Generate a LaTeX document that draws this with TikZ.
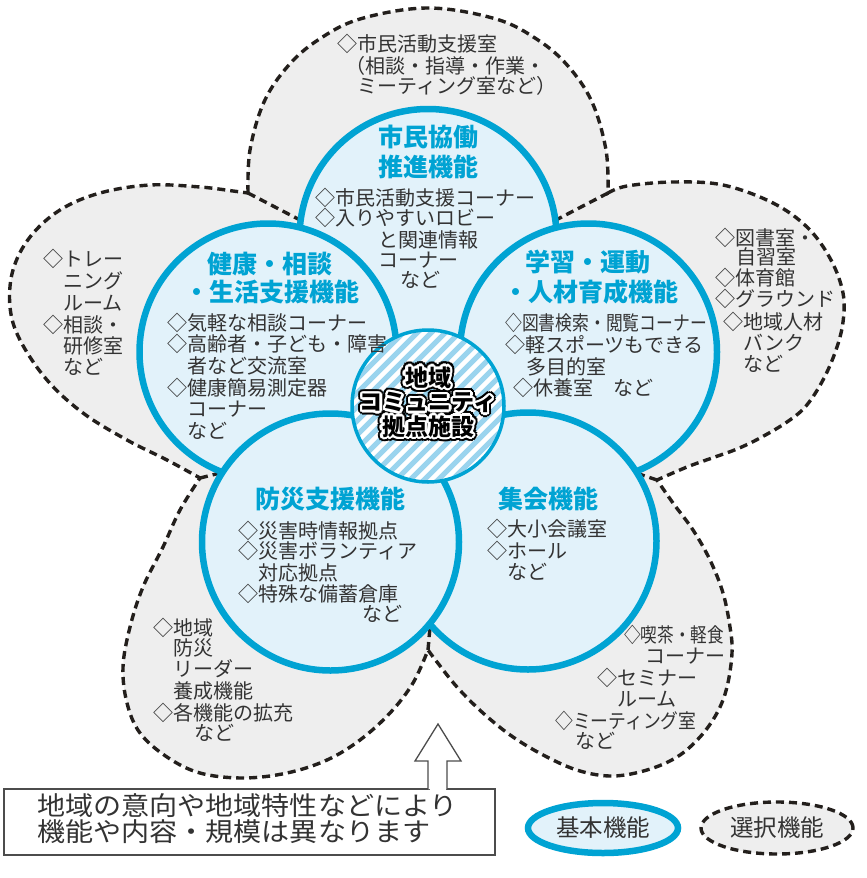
\documentclass[tikz,border=0pt]{standalone}
\usepackage{fontspec}
\usepackage{graphicx}
\usetikzlibrary{shapes.geometric}
\newfontfamily\jp{Noto Sans CJK JP}
\definecolor{bblue}{HTML}{00A3D3}
\definecolor{lblue}{HTML}{E2F2FA}
\definecolor{pgray}{HTML}{EEEEEE}
\definecolor{tgray}{HTML}{333333}
\definecolor{stripecol}{HTML}{9AD4EE}
\definecolor{dashcol}{HTML}{231F1C}
\tikzset{
  txt/.style={anchor=west, inner sep=0pt, text=tgray, text height=0.88em, text depth=0.12em, font=\jp\fontsize{20}{21}\selectfont},
  headtxt/.style={anchor=center, inner sep=0pt, text=bblue, text height=0.88em, text depth=0.12em, font=\jp\bfseries\fontsize{25}{28}\selectfont},
  petalline/.style={draw=dashcol, line width=3.4pt, dash pattern=on 8pt off 5pt},
  bluecirc/.style={fill=lblue, draw=bblue, line width=6.5pt},
  ctxt/.style={inner sep=0pt, align=center, font=\jp\bfseries\fontsize{23}{24.5}\selectfont},
  notebox/.style={draw=black!70, line width=1.3pt, fill=white},
  notetxt/.style={anchor=west, inner sep=0pt, text=tgray, text height=0.88em, text depth=0.12em, font=\jp\fontsize{26}{27}\selectfont}
}
\begin{document}
\begin{tikzpicture}[x=1pt,y=-1pt]
\useasboundingbox (0,0) rectangle (867,878);
% corners
\coordinate (k1) at (248,193);
\coordinate (k2) at (608,193);
\coordinate (k3) at (657,480);
\coordinate (k4) at (428,650);
\coordinate (k5) at (200,478);
\coordinate (i1) at (300,220);
\coordinate (i2) at (556,220);
\coordinate (i3) at (636,473);
\coordinate (i4) at (430,627);
\coordinate (i5) at (220,473);
% petals
\path[fill=pgray, petalline]
  plot[smooth, tension=0.6] coordinates {(248,193) (250,150) (264,102) (288,66) (318,40) (360,19) (428,8) (496,19) (538,40) (568,66) (592,102) (606,150) (608,193)}
  -- plot[smooth, tension=0.6] coordinates {(608,193) (627,186) (673,182) (723,185) (773,203) (808,228) (831,260) (843,293) (843,322) (836,350) (823,380) (806,406) (787,422) (760,438) (737,449) (712,458) (687,467) (657,480)}
  -- plot[smooth, tension=0.6] coordinates {(657,480) (673,503) (693,530) (710,560) (723,593) (730,627) (732,653) (727,687) (717,713) (700,737) (677,757) (647,770) (613,776) (580,771) (547,757) (513,737) (483,713) (457,687) (437,662) (428,650)}
  -- plot[smooth, tension=0.6] coordinates {(428,650) (413,683) (390,713) (360,740) (327,760) (287,773) (243,778) (200,773) (167,757) (140,733) (127,703) (123,667) (130,627) (143,587) (163,547) (180,510) (200,478)}
  -- plot[smooth, tension=0.6] coordinates {(200,478) (167,460) (127,440) (83,413) (47,380) (20,340) (10,307) (13,270) (30,237) (60,210) (100,193) (150,185) (200,187) (233,191) (248,193)}
  -- cycle;
\draw[petalline] (k1) -- (i1);
\draw[petalline] (k2) -- (i2);
\draw[petalline] (k3) -- (i3);
\draw[petalline] (k4) -- (i4);
\draw[petalline] (k5) -- (i5);
% blue circles
\coordinate (ctop) at (428,237.5);
\coordinate (cright) at (588.5,352);
\coordinate (cbr) at (528,541);
\coordinate (cleft) at (268,352);
\coordinate (cbl) at (330.5,542);
\coordinate (ctr) at (428,406);
\draw[bluecirc] (ctop) circle[radius=128.5pt];
\draw[bluecirc] (cright) circle[radius=128.5pt];
\draw[bluecirc] (cbr) circle[radius=128.5pt];
\draw[bluecirc] (cleft) circle[radius=128.5pt];
\draw[bluecirc] (cbl) circle[radius=128.5pt];
% center hatched circle
\begin{scope}
\clip (ctr) circle[radius=76pt];
\fill[white] (ctr) circle[radius=76pt];
\foreach \k in {-14,...,14}
  \draw[stripecol, line width=5pt] ([shift={({\k*14-100},100)}]ctr) -- ([shift={({\k*14+100},-100)}]ctr);
\end{scope}
\draw[bblue, line width=3.5pt] (ctr) circle[radius=76pt];
% headings
\node[headtxt] (h1a) at (428,143) {市民協働};
\node[headtxt] (h1b) at (428,173) {推進機能};
\node[headtxt] (h2a) at (270,270) {健康・相談};
\node[headtxt] (h2b) at (272,298) {・生活支援機能};
\node[headtxt] (h3a) at (588,268) {学習・運動};
\node[headtxt] (h3b) at (591,298) {・人材育成機能};
\node[headtxt] (h4) at (330,505) {防災支援機能};
\node[headtxt] (h5) at (548,505) {集会機能};
% body texts
\foreach \x/\y/\t [count=\i] in {
  337/48/◇市民活動支援室, 345/70/（相談・指導・作業・, 357/90/ミーティング室など）,
  315/202/◇市民活動支援コーナー, 315/222/◇入りやすいロビー, 378/244/と関連情報, 378/264/コーナー, 400/284/など,
  43/263/◇トレー, 63/285/ニング, 63/307/ルーム, 43/329/◇相談・, 63/350/研修室, 63/371/など,
  167/327/◇気軽な相談コーナー, 167/348/◇高齢者・子ども・障害, 187/370/者など交流室, 167/392/◇健康簡易測定器, 187/413/コーナー, 187/435/など,
  505/349/◇軽スポーツもできる, 526/371/多目的室, 513/392/◇休養室　など,
  715/242/◇図書室・, 736/261/自習室, 715/282/◇体育館, 715/303/◇グラウンド, 723/326/◇地域人材, 743/347/バンク, 743/368/など,
  238/535/◇災害時情報拠点, 238/555/◇災害ボランティア, 258/577/対応拠点, 238/598/◇特殊な備蓄倉庫, 362/618/など,
  153/632/◇地域, 173/652/防災, 173/673/リーダー, 173/695/養成機能, 153/717/◇各機能の拡充, 194/737/など,
  487/533/◇大小会議室, 487/555/◇ホール, 507/576/など,
  645/660/コーナー, 597/682/◇セミナー, 617/703/ルーム, 575/745/など}
  \node[txt] (t\i) at (\x,\y) {\t};
\node[txt] (ta) at (505,327) {\scalebox{0.84}[1]{◇図書検索・閲覧コーナー}};
\node[txt] (tb) at (624,639) {\scalebox{0.83}[1]{◇喫茶・軽食}};
\node[txt] (tc) at (555,725) {\scalebox{0.89}[1]{◇ミーティング室}};
% center label with halo
\foreach \a [count=\i] in {0,22.5,...,337.5} {
  \node[ctxt, text=black] (co\i) at ([shift={(\a:4.6pt)}]428,402) {地域\\コミュニティ\\拠点施設};
  \node[ctxt, text=black] (cp\i) at ([shift={(\a:3.4pt)}]428,402) {地域\\コミュニティ\\拠点施設};
}
\foreach \a [count=\i] in {0,22.5,...,337.5} {
  \node[ctxt, text=white] (cw\i) at ([shift={(\a:2.4pt)}]428,402) {地域\\コミュニティ\\拠点施設};
  \node[ctxt, text=white] (cv\i) at ([shift={(\a:1.3pt)}]428,402) {地域\\コミュニティ\\拠点施設};
}
\node[ctxt, text=black] (center) at (428,402) {地域\\コミュニティ\\拠点施設};
% note box and arrow
\node[notebox, minimum width=491pt, minimum height=66pt, inner sep=0pt] (note) at (249.5,822) {};
\node[notetxt] (n1) at (37,812) {\scalebox{1.08}[1]{地域の意向や地域特性などにより}};
\node[notetxt] (n2) at (37,838) {\scalebox{1.08}[1]{機能や内容・規模は異なります}};
\coordinate (a1) at (428,789);
\coordinate (a2) at (447,789);
\fill[white] (429.5,786) rectangle (445.5,792);
\draw[black!70, line width=1.3pt, fill=white, line join=miter] (a1) -- (428,761) -- (415,761) -- (438,724) -- (461,761) -- (447,761) -- (a2);
% legend
\node[ellipse, draw=bblue, line width=6.5pt, fill=lblue, minimum width=150pt, minimum height=50pt, inner sep=0pt, text=tgray, font=\jp\fontsize{23.5}{24}\selectfont] (basic) at (603,828) {基本機能};
\node[ellipse, petalline, fill=pgray, minimum width=152pt, minimum height=52pt, inner sep=0pt, text=tgray, font=\jp\fontsize{23.5}{24}\selectfont] (option) at (777,828) {選択機能};
\end{tikzpicture}
\end{document}
